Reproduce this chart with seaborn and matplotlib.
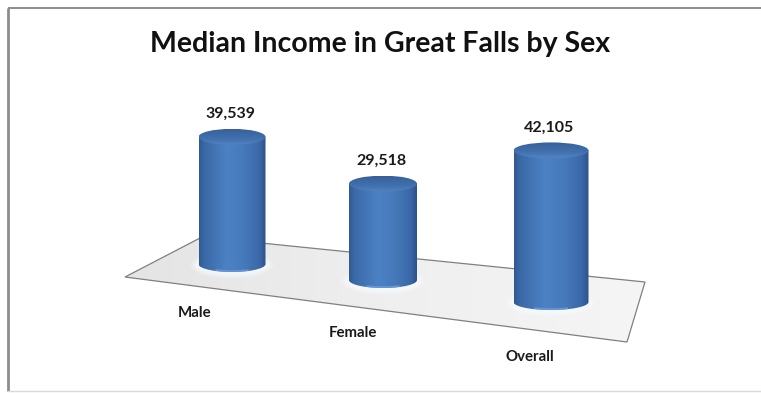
import numpy as np
import pandas as pd
import matplotlib
matplotlib.use("Agg")
import matplotlib.pyplot as plt
import seaborn as sns
from matplotlib.patches import Ellipse, Polygon, PathPatch, Arc
from matplotlib.path import Path
from matplotlib.colors import LinearSegmentedColormap

# ---- data -------------------------------------------------------------
categories = ["Male", "Female", "Overall"]
median_income = [39539, 29518, 42105]
value_labels = ["39,539", "29,518", "42,105"]
title = "Median Income in Great Falls by Sex"

# ---- scene layout (pixels, measured from the top-left corner) ----------
W, H = 761, 393
col_center_x = [232, 383, 551]
col_width = [67, 68, 75]          # wider columns sit nearer the viewer
col_base_y = [264, 280, 302]      # centre of each column's bottom ellipse
cap_half = 8                      # vertical semi-axis of the end ellipses
height_scale = 4.8e-5             # pixels per (value * column width)
cat_label_pos = [(195, 313), (353, 333), (530, 357)]
floor_corners = [(125, 277), (202, 237), (645, 282), (627, 342)]


def up(y):
    """Convert a top-down pixel row into the axes' upward y coordinate."""
    return H - y


sns.set_theme(style="white")
plt.rcParams["font.family"] = ["Lato", "DejaVu Sans"]

fig = plt.figure(figsize=(W / 100, H / 100), dpi=100)
fig.patch.set_facecolor("white")
ax = fig.add_axes([0, 0, 1, 1])

df = pd.DataFrame({
    "category": categories,
    "value": median_income,
    "x": col_center_x,
})
df["height"] = df["value"] * np.array(col_width) * height_scale

# bar bodies come from seaborn; they are then reshaped into cylinders
sns.barplot(data=df, x="x", y="height", native_scale=True, errorbar=None,
            color="#4A7EBB", ax=ax)

ax.set_xlim(0, W)
ax.set_ylim(0, H)
ax.axis("off")

# ---- floor plane -------------------------------------------------------
floor = Polygon([(x, up(y)) for x, y in floor_corners], closed=True,
                facecolor="#EEEEEE", edgecolor="none", zorder=1)
ax.add_patch(floor)
fx = np.linspace(0, 1, 256).reshape(1, -1)
floor_cmap = LinearSegmentedColormap.from_list(
    "floor", ["#E4E4E4", "#EFEFEF", "#F5F5F5"])
fim = ax.imshow(fx, cmap=floor_cmap, aspect="auto", zorder=1.1,
                extent=(125, 645, up(342), up(237)))
fim.set_clip_path(floor)
ax.add_patch(Polygon([(x, up(y)) for x, y in floor_corners], closed=True,
                     facecolor="none", edgecolor="#808080", lw=0.9,
                     zorder=1.2))

body_cmap = LinearSegmentedColormap.from_list(
    "body", [(0.0, "#31598F"), (0.08, "#3B69A8"), (0.42, "#4C82C4"),
             (0.68, "#4679BA"), (0.9, "#3B69A8"), (1.0, "#2D5389")])
cap_cmap = LinearSegmentedColormap.from_list(
    "cap", [(0.0, "#5283C2"), (0.35, "#4272AF"), (1.0, "#37609A")])
grad = np.linspace(0, 1, 256).reshape(1, -1)
vgrad = np.linspace(0, 1, 64).reshape(-1, 1)

bars = sorted(ax.patches[:len(categories)], key=lambda p: p.get_x())
for i, bar in enumerate(bars):
    w = col_width[i]
    cx = col_center_x[i]
    left = cx - w / 2
    base = up(col_base_y[i])
    h = bar.get_height()
    bar.set_x(left)
    bar.set_width(w)
    bar.set_y(base)
    bar.set_visible(False)
    top = base + h
    e = cap_half

    # soft light reflection on the floor around the base
    for grow, a in [(16, 0.25), (11, 0.35), (6, 0.5)]:
        ax.add_patch(Ellipse((cx, base - 1), w + grow, 2 * e + grow * 0.7,
                             facecolor="#F7FAFE", edgecolor="none", alpha=a,
                             zorder=2))

    # body outline: rectangle closed by the lower half of the base ellipse
    theta = np.linspace(np.pi, 2 * np.pi, 60)
    arc = np.column_stack([cx + (w / 2) * np.cos(theta),
                           base + e * np.sin(theta)])
    verts = np.vstack([[left, top], [left, base], arc, [left + w, top],
                       [left, top]])
    body = PathPatch(Path(verts), facecolor="none", edgecolor="none",
                     zorder=3)
    ax.add_patch(body)
    im = ax.imshow(grad, cmap=body_cmap, aspect="auto", zorder=3,
                   extent=(left, left + w, base - e, top))
    im.set_clip_path(body)
    # lighter rim along the front of the base
    ax.add_patch(Arc((cx, base), w - 3, 2 * e - 2, theta1=200, theta2=340,
                     color="#6A9CDA", lw=1.3, alpha=0.8, zorder=3.5))

    # top cap, darker towards the back
    cap = Ellipse((cx, top), w, 2 * e, facecolor="none",
                  edgecolor="none", zorder=4)
    ax.add_patch(cap)
    cim = ax.imshow(vgrad, cmap=cap_cmap, aspect="auto", zorder=4,
                    origin="lower", extent=(left, left + w, top - e, top + e))
    cim.set_clip_path(cap)

    # value label above the column
    ax.text(cx - 2, top + e + 15, value_labels[i], ha="center", va="center",
            fontsize=11.5, fontweight="bold", color="#1A1A1A", zorder=6)

    # category label in front of the floor
    lx, ly = cat_label_pos[i]
    ax.text(lx, up(ly), categories[i], ha="center", va="center",
            fontsize=10.8, fontweight="bold", color="#1A1A1A", zorder=6)

# ---- title and chart frame ---------------------------------------------
ax.text(380, up(44), title, ha="center", va="center", fontsize=20.5,
        fontweight="bold", color="#111111", zorder=6)

ax.plot([8, 8], [up(8), up(391)], color="#8C8C8C", lw=2.0, zorder=7,
        solid_capstyle="butt")
ax.plot([8, W], [up(8), up(8)], color="#8C8C8C", lw=1.4, zorder=7,
        solid_capstyle="butt")
ax.plot([8, W], [up(391), up(391)], color="#DADADA", lw=1.0, zorder=7)

fig.savefig("out.png", dpi=100, facecolor="white")
